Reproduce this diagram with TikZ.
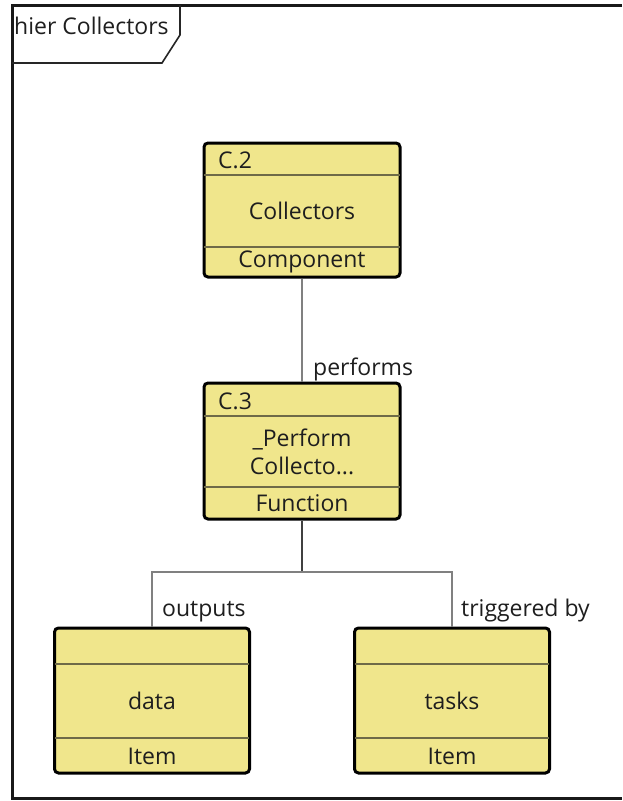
\documentclass[tikz,border=0pt]{standalone}
\usepackage{fontspec}
\setmainfont{Open Sans}
\usetikzlibrary{calc}
\definecolor{boxfill}{HTML}{F0E68C}
\definecolor{divcol}{HTML}{6E6A48}
\definecolor{conn}{HTML}{808080}
\definecolor{txt}{HTML}{1E1E1E}
\tikzset{
  umlbox/.style={draw=black, line width=3pt, fill=boxfill, rounded corners=4pt, inner sep=0pt},
  divline/.style={draw=divcol, line width=1.5pt},
  connline/.style={draw=conn, line width=2.4pt},
  connlinedark/.style={draw=black!75, line width=2.4pt},
  lbl/.style={inner sep=0pt, text=txt, font=\fontsize{23}{28}\selectfont},
  boxtxt/.style={inner sep=0pt, text=txt, font=\fontsize{23}{28}\selectfont, align=center},
}
\begin{document}
\begin{tikzpicture}[x=1pt,y=-1pt]
\useasboundingbox (0,0) rectangle (622,801);
\fill[white] (0,0) rectangle (622,801);
% frame (its right side lies outside the picture)
\draw[line width=3pt, draw=black!90] (622,5) -- (12,5) -- (12,798) -- (622,798);
\draw[line width=1.6pt, draw=black!85] (180,5) -- (180,35) -- (162,63) -- (12,63);
\node[lbl, anchor=base west] (title) at (14,34) {hier Collectors};

% C.2
\node[umlbox, minimum width=196pt, minimum height=134pt] (c2) at (302,210) {};
\draw[divline] (204,175) -- (400,175);
\draw[divline] (204,247) -- (400,247);
\node[boxtxt, anchor=base west] (c2h) at (218,168) {C.2};
\node[boxtxt] (c2b) at (302,211) {Collectors};
\node[boxtxt] (c2s) at (302,262) {Component};

% C.3
\node[umlbox, minimum width=196pt, minimum height=136pt] (c3) at (302,451) {};
\draw[divline] (204,416) -- (400,416);
\draw[divline] (204,487) -- (400,487);
\node[boxtxt, anchor=base west] (c3h) at (218,409) {C.3};
\node[boxtxt] (c3b) at (302,452) {\_Perform\\Collecto...};
\node[boxtxt] (c3s) at (302,503) {Function};

% data
\node[umlbox, minimum width=195pt, minimum height=145pt] (data) at (152,700.5) {};
\draw[divline] (55,664) -- (249,664);
\draw[divline] (55,738) -- (249,738);
\node[boxtxt] (datab) at (152,701) {data};
\node[boxtxt] (datas) at (152,756) {Item};

% tasks
\node[umlbox, minimum width=195pt, minimum height=145pt] (tasks) at (452,700.5) {};
\draw[divline] (355,664) -- (549,664);
\draw[divline] (355,738) -- (549,738);
\node[boxtxt] (tasksb) at (452,701) {tasks};
\node[boxtxt] (taskss) at (452,756) {Item};

% connectors
\coordinate (j) at (302,572);
\draw[connline] (c2.south) -- (c3.north);
\node[lbl, anchor=base west] (lperf) at (313,375) {performs};
\draw[connlinedark] (c3.south) -- (j);
\draw[connline] (data.north) |- (j) -| (tasks.north);
\node[lbl, anchor=base west] (lout) at (162,616) {outputs};
\node[lbl, anchor=base west] (ltrig) at (461,616) {triggered by};
\end{tikzpicture}
\end{document}
